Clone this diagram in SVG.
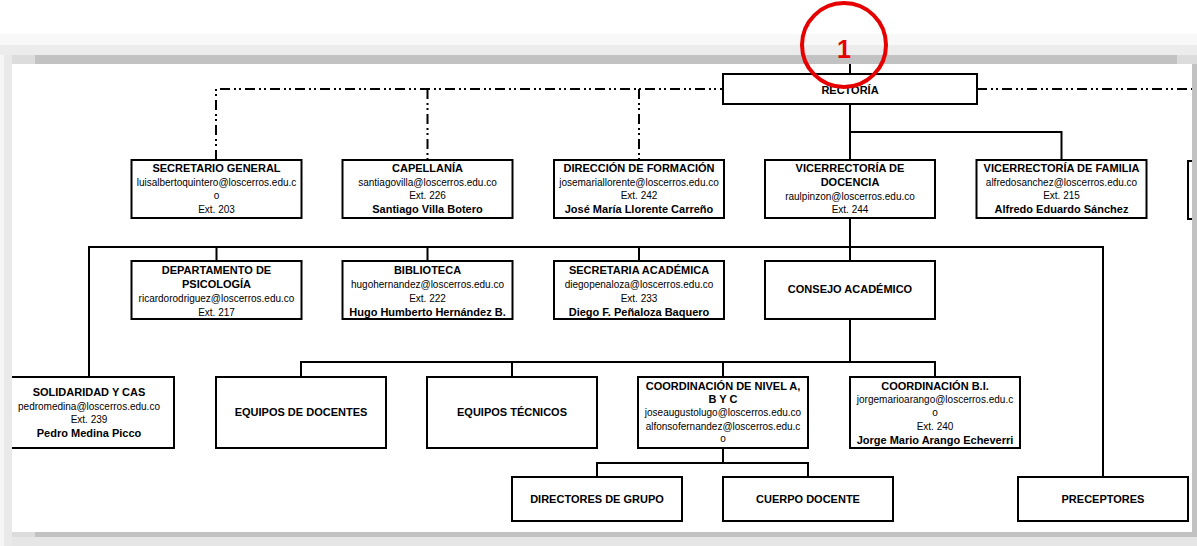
<svg xmlns="http://www.w3.org/2000/svg" width="1197" height="546" viewBox="0 0 1197 546">
<defs>
<style>
.box{fill:#fff;stroke:#000;stroke-width:2}
.t{font-family:"Liberation Sans",Arial,sans-serif;font-weight:bold;font-size:11px;text-anchor:middle;fill:#000}
.e{font-family:"Liberation Sans",Arial,sans-serif;font-size:10px;text-anchor:middle;fill:#000}
.n{font-family:"Liberation Sans",Arial,sans-serif;font-weight:bold;font-size:11px;text-anchor:middle;fill:#000}
.ln{fill:none;stroke:#000;stroke-width:2}
.dd{fill:none;stroke:#000;stroke-width:2;stroke-dasharray:10 4 2 3 2 4}
</style>
<clipPath id="page"><rect x="12" y="64" width="1180" height="468"/></clipPath>
</defs>
<rect width="1197" height="546" fill="#fff"/>

<g id="connectors">
<path class="dd" d="M216,160 V89 H723"/>
<path class="dd" d="M427.5,89 V160"/>
<path class="dd" d="M639,89 V160"/>
<path class="dd" d="M977,89 H1192"/>
<path class="ln" d="M850,64 V74"/>
<path class="ln" d="M850,104 V160"/>
<path class="ln" d="M850,132 H1061.5 V160"/>
<path class="ln" d="M850,218 V261"/>
<path class="ln" d="M89,377 V247 H1103 V477"/>
<path class="ln" d="M216.5,247 V261 M427.5,247 V261 M639,247 V261"/>
<path class="ln" d="M850,319 V362"/>
<path class="ln" d="M301,377 V362 H935 V377 M512,362 V377 M723,362 V377"/>
<path class="ln" d="M723,448 V463"/>
<path class="ln" d="M597,477 V463 H808 V477"/>
</g>

<g id="rectoria">
<rect class="box" x="723" y="74" width="254" height="30"/>
<text class="t" x="850" y="94">RECTORÍA</text>
</g>

<g id="secretario-general">
<rect class="box" x="131.5" y="160" width="170" height="58"/>
<text class="t" x="216.5" y="172">SECRETARIO GENERAL</text>
<text class="e" x="216.5" y="186">luisalbertoquintero@loscerros.edu.c</text>
<text class="e" x="216.5" y="199">o</text>
<text class="e" x="216.5" y="213">Ext. 203</text>
</g>

<g id="capellania">
<rect class="box" x="342.5" y="160" width="170" height="58"/>
<text class="t" x="427.5" y="172">CAPELLANÍA</text>
<text class="e" x="427.5" y="186">santiagovilla@loscerros.edu.co</text>
<text class="e" x="427.5" y="199">Ext. 226</text>
<text class="n" x="427.5" y="213">Santiago Villa Botero</text>
</g>

<g id="direccion-formacion">
<rect class="box" x="554" y="160" width="170" height="58"/>
<text class="t" x="639" y="172">DIRECCIÓN DE FORMACIÓN</text>
<text class="e" x="639" y="186">josemariallorente@loscerros.edu.co</text>
<text class="e" x="639" y="199">Ext. 242</text>
<text class="n" x="639" y="213">José María Llorente Carreño</text>
</g>

<g id="vicerrectoria-docencia">
<rect class="box" x="765" y="160" width="170" height="58"/>
<text class="t" x="850" y="172">VICERRECTORÍA DE</text>
<text class="t" x="850" y="186">DOCENCIA</text>
<text class="e" x="850" y="200">raulpinzon@loscerros.edu.co</text>
<text class="e" x="850" y="213">Ext. 244</text>
</g>

<g id="vicerrectoria-familia">
<rect class="box" x="976.5" y="160" width="170" height="58"/>
<text class="t" x="1061.5" y="172">VICERRECTORÍA DE FAMILIA</text>
<text class="e" x="1061.5" y="186">alfredosanchez@loscerros.edu.co</text>
<text class="e" x="1061.5" y="199">Ext. 215</text>
<text class="n" x="1061.5" y="213">Alfredo Eduardo Sánchez</text>
</g>

<g id="partial-box" clip-path="url(#page)">
<rect class="box" x="1188" y="161" width="60" height="58"/>
</g>

<g id="psicologia">
<rect class="box" x="131.5" y="261" width="170" height="58"/>
<text class="t" x="216.5" y="274">DEPARTAMENTO DE</text>
<text class="t" x="216.5" y="288">PSICOLOGÍA</text>
<text class="e" x="216.5" y="302">ricardorodriguez@loscerros.edu.co</text>
<text class="e" x="216.5" y="316">Ext. 217</text>
</g>

<g id="biblioteca">
<rect class="box" x="342.5" y="261" width="170" height="58"/>
<text class="t" x="427.5" y="274">BIBLIOTECA</text>
<text class="e" x="427.5" y="288">hugohernandez@loscerros.edu.co</text>
<text class="e" x="427.5" y="302">Ext. 222</text>
<text class="n" x="427.5" y="316">Hugo Humberto Hernández B.</text>
</g>

<g id="secretaria-academica">
<rect class="box" x="554" y="261" width="170" height="58"/>
<text class="t" x="639" y="274">SECRETARIA ACADÉMICA</text>
<text class="e" x="639" y="288">diegopenaloza@loscerros.edu.co</text>
<text class="e" x="639" y="302">Ext. 233</text>
<text class="n" x="639" y="316">Diego F. Peñaloza Baquero</text>
</g>

<g id="consejo-academico">
<rect class="box" x="765" y="261" width="170" height="58"/>
<text class="t" x="850" y="293">CONSEJO ACADÉMICO</text>
</g>

<g id="solidaridad" clip-path="url(#page)">
<rect class="box" x="4" y="377" width="170" height="71"/>
<text class="t" x="89" y="396">SOLIDARIDAD Y CAS</text>
<text class="e" x="89" y="410">pedromedina@loscerros.edu.co</text>
<text class="e" x="89" y="423">Ext. 239</text>
<text class="n" x="89" y="437">Pedro Medina Picco</text>
</g>

<g id="equipos-docentes">
<rect class="box" x="216" y="377" width="170" height="71"/>
<text class="t" x="301" y="416">EQUIPOS DE DOCENTES</text>
</g>

<g id="equipos-tecnicos">
<rect class="box" x="427" y="377" width="170" height="71"/>
<text class="t" x="512" y="416">EQUIPOS TÉCNICOS</text>
</g>

<g id="coordinacion-nivel">
<rect class="box" x="638" y="377" width="170" height="71"/>
<text class="t" x="723" y="390">COORDINACIÓN DE NIVEL A,</text>
<text class="t" x="723" y="403">B Y C</text>
<text class="e" x="723" y="416">joseaugustolugo@loscerros.edu.co</text>
<text class="e" x="723" y="430">alfonsofernandez@loscerros.edu.c</text>
<text class="e" x="723" y="442">o</text>
</g>

<g id="coordinacion-bi">
<rect class="box" x="850" y="377" width="170" height="71"/>
<text class="t" x="935" y="390">COORDINACIÓN B.I.</text>
<text class="e" x="935" y="403">jorgemarioarango@loscerros.edu.c</text>
<text class="e" x="935" y="416">o</text>
<text class="e" x="935" y="430">Ext. 240</text>
<text class="n" x="935" y="444">Jorge Mario Arango Echeverri</text>
</g>

<g id="directores-grupo">
<rect class="box" x="512" y="477" width="170" height="44"/>
<text class="t" x="597" y="503">DIRECTORES DE GRUPO</text>
</g>

<g id="cuerpo-docente">
<rect class="box" x="723" y="477" width="170" height="44"/>
<text class="t" x="808" y="503">CUERPO DOCENTE</text>
</g>

<g id="preceptores">
<rect class="box" x="1018" y="477" width="170" height="44"/>
<text class="t" x="1103" y="503">PRECEPTORES</text>
</g>

<g id="page-frame">
<rect x="0" y="34" width="1197" height="11" fill="#f8f8f8"/>
<rect x="0" y="45" width="1197" height="10" fill="#ececec"/>
<rect x="12" y="55" width="23" height="9" fill="#dcdcdc"/>
<rect x="35" y="55" width="1142" height="9" fill="#c2c2c2"/>
<rect x="1177" y="55" width="20" height="9" fill="#dcdcdc"/>
<rect x="0" y="55" width="4" height="491" fill="#f6f6f6"/>
<rect x="4" y="55" width="8" height="491" fill="#e9e9e9"/>
<rect x="1192" y="64" width="5" height="473" fill="#c2c2c2"/>
<rect x="12" y="532" width="23" height="5" fill="#dcdcdc"/>
<rect x="35" y="532" width="1162" height="5" fill="#c2c2c2"/>
<rect x="12" y="537" width="1185" height="9" fill="#e6e6e6"/>
</g>

<g id="marker-1">
<circle cx="844" cy="45" r="42" fill="none" stroke="#e60000" stroke-width="4"/>
<text x="844" y="58" text-anchor="middle" font-family="Liberation Sans, Arial, sans-serif" font-weight="bold" font-size="25" fill="#e60000">1</text>
</g>
</svg>
